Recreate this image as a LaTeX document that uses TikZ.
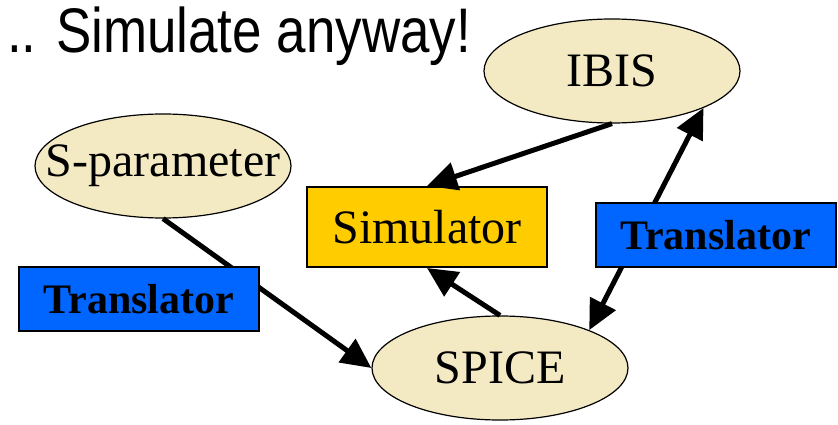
\documentclass[tikz,border=0pt]{standalone}
\usepackage{fontspec}
\setmainfont{Liberation Serif}
\newfontfamily\titlefont[FakeStretch=0.84]{Liberation Sans}
\usetikzlibrary{shapes.geometric,arrows.meta}
\definecolor{tan}{HTML}{F3EAC4}
\definecolor{simyellow}{HTML}{FFCC00}
\definecolor{transblue}{HTML}{0066FF}
\tikzset{
  fmt/.style={ellipse,draw=black,line width=1.2pt,fill=tan,minimum width=256pt,minimum height=104pt,inner sep=0pt,font=\fontsize{48}{56}\selectfont},
  simbox/.style={rectangle,draw=black,line width=2pt,fill=simyellow,minimum width=240pt,minimum height=80pt,inner sep=0pt,font=\fontsize{48}{56}\selectfont},
  transbox/.style={rectangle,draw=black,line width=2pt,fill=transblue,minimum width=240pt,minimum height=64pt,inner sep=0pt,font=\fontsize{42}{50}\selectfont\bfseries},
  link/.style={line width=5pt,-{Triangle[length=30pt,width=28pt]}},
  biglink/.style={line width=5pt,{Triangle[length=30pt,width=28pt]}-{Triangle[length=30pt,width=28pt]}}
}
\begin{document}
\begin{tikzpicture}[x=1pt,y=-1pt]
\useasboundingbox[fill=white] (0,0) rectangle (838,425);
\node[anchor=base west,inner sep=0pt,font=\titlefont\fontsize{63}{72}\selectfont] (title) at (7,53) {.. Simulate anyway!};
\node[fmt] (ibis) at (612,71) {\makebox[0pt]{IBIS}};
\node[fmt] (spar) at (163,166) {\makebox[0pt]{S-parameter}};
\node[fmt] (spice) at (500,368) {\makebox[0pt]{SPICE}};
\node[simbox] (sim) at (427,227) {Simulator};
\draw[link] (ibis.south) -- (sim.north);
\draw[link] (spice.north) -- (sim.south);
\draw[link] (spar.south) -- (spice.west);
\draw[biglink] (spice.23) -- (ibis.-22);
\node[transbox] (tleft) at (139,299) {Translator};
\node[transbox] (tright) at (715.5,235) {Translator};
\end{tikzpicture}
\end{document}
